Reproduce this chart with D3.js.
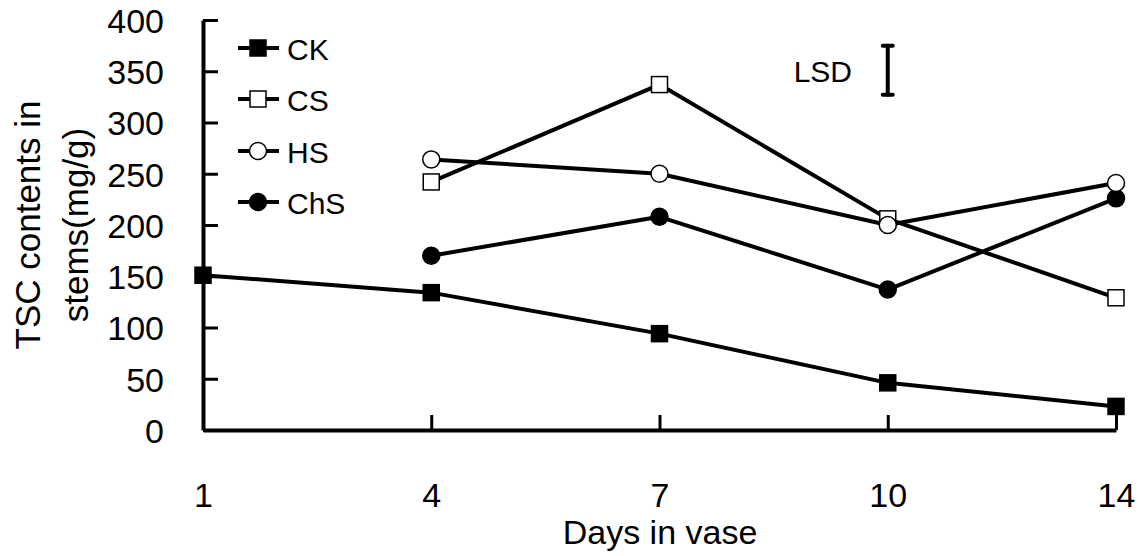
<!DOCTYPE html>
<html>
<head>
<meta charset="utf-8">
<script src="https://cdn.jsdelivr.net/npm/d3@7"></script>
<style>
  html, body { margin: 0; padding: 0; background: #fff; }
  svg { display: block; font-family: "Liberation Sans", Arial, sans-serif; }
</style>
</head>
<body>
<svg id="chart" width="1139" height="556"></svg>
<script>
// ---- data ----
const days = ["1", "4", "7", "10", "14"];
const yTicks = [0, 50, 100, 150, 200, 250, 300, 350, 400];
const seriesNames = ["CK", "CS", "HS", "ChS"];
const ckValues  = [151, 134, 94, 46, 23];
const csValues  = [null, 242, 337, 206, 129];
const hsValues  = [null, 264, 250, 200, 241];
const chsValues = [null, 170, 208, 137, 226];
const lsdTop = 375;
const lsdBottom = 327;
const lsdDay = "10";
const xTitle = "Days in vase";
const yTitleLines = ["TSC contents in", "stems(mg/g)"];

const series = [
  { name: "CK",  values: ckValues,  shape: "square", fill: "#000" },
  { name: "CS",  values: csValues,  shape: "square", fill: "#fff" },
  { name: "HS",  values: hsValues,  shape: "circle", fill: "#fff" },
  { name: "ChS", values: chsValues, shape: "circle", fill: "#000" }
];
// draw order for markers (HS on top, as in the reference)
const drawOrder = ["CK", "ChS", "CS", "HS"];

// ---- layout ----
const svg = d3.select("#chart");
const x = d3.scalePoint().domain(days).range([203, 1116]);
const y = d3.scaleLinear().domain([0, 400]).range([430, 20]);

// axes
const yAxis = d3.axisLeft(y).tickValues(yTicks).tickSizeInner(-15).tickSizeOuter(0).tickPadding(39);
const xAxis = d3.axisBottom(x).tickSizeInner(-15).tickSizeOuter(0).tickPadding(53);

const gy = svg.append("g").attr("transform", "translate(203,0)").call(yAxis);
const gx = svg.append("g").attr("transform", "translate(0,430)").call(xAxis);
[gy, gx].forEach(g => {
  g.select(".domain").attr("stroke", "#000").attr("stroke-width", 4);
  g.selectAll(".tick line").attr("stroke", "#000").attr("stroke-width", 3);
  g.selectAll(".tick text").attr("fill", "#000").style("font-size", "34px")
    .style("font-family", "'Liberation Sans', Arial, sans-serif");
});
gy.selectAll(".tick text").attr("dy", "0.36em");

// axis titles
svg.append("text").attr("x", 660).attr("y", 544).attr("text-anchor", "middle")
  .style("font-size", "34px").text(xTitle);
const tx = [40, 88];
yTitleLines.forEach((t, i) => {
  svg.append("text").attr("transform", `translate(${tx[i]},225) rotate(-90)`)
    .attr("text-anchor", "middle").style("font-size", "35px").text(t);
});

// lines
const line = d3.line().defined(d => d.v != null).x(d => x(d.day)).y(d => y(d.v));
series.forEach(s => {
  const pts = days.map((day, i) => ({ day, v: s.values[i] }));
  svg.append("path").datum(pts).attr("d", line)
    .attr("fill", "none").attr("stroke", "#000").attr("stroke-width", 4)
    .attr("stroke-linejoin", "round");
});

function marker(g, shape, fill, cx, cy) {
  if (shape === "square") {
    g.append("rect").attr("x", cx - 8).attr("y", cy - 8).attr("width", 16).attr("height", 16)
      .attr("fill", fill).attr("stroke", "#000").attr("stroke-width", 1.5);
  } else {
    g.append("circle").attr("cx", cx).attr("cy", cy).attr("r", 8.5)
      .attr("fill", fill).attr("stroke", "#000").attr("stroke-width", 1.5);
  }
}

// markers
const mg = svg.append("g");
drawOrder.forEach(n => {
  const s = series.find(d => d.name === n);
  days.forEach((day, i) => {
    if (s.values[i] != null) marker(mg, s.shape, s.fill, x(day), y(s.values[i]));
  });
});

// legend
const legendRows = [48, 99, 151, 202];
series.forEach((s, i) => {
  const g = svg.append("g");
  const ly = legendRows[i];
  g.append("line").attr("x1", 238).attr("x2", 279).attr("y1", ly).attr("y2", ly)
    .attr("stroke", "#000").attr("stroke-width", 4);
  marker(g, s.shape, s.fill, 258, ly);
  g.append("text").attr("x", 287).attr("y", ly + 12).style("font-size", "30px").text(s.name);
});

// LSD bar
const lx = x(lsdDay);
const lg = svg.append("g").attr("stroke", "#000").attr("stroke-width", 4).attr("stroke-linecap", "round");
lg.append("line").attr("x1", lx).attr("x2", lx).attr("y1", y(lsdTop)).attr("y2", y(lsdBottom));
lg.append("line").attr("x1", lx - 5).attr("x2", lx + 5).attr("y1", y(lsdTop)).attr("y2", y(lsdTop));
lg.append("line").attr("x1", lx - 5).attr("x2", lx + 5).attr("y1", y(lsdBottom)).attr("y2", y(lsdBottom));
svg.append("text").attr("x", 852).attr("y", 82).attr("text-anchor", "end")
  .style("font-size", "30px").text("LSD");
</script>
</body>
</html>
